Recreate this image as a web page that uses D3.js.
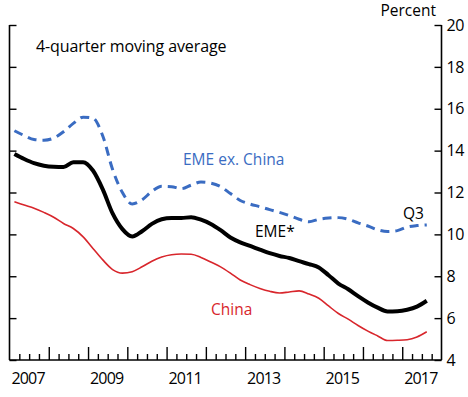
<!DOCTYPE html>
<html><head><meta charset="utf-8">
<script src="https://cdn.jsdelivr.net/npm/d3@7"></script>
<style>
html,body{margin:0;padding:0;background:#fff;}
svg{display:block;font-family:"Open Sans","Noto Sans",sans-serif;}
</style></head>
<body><svg id="c" width="468" height="397"></svg>
<script>
// Quarterly data, 2007Q1 .. 2017Q3
const quarters = d3.range(43).map(i => ({year: 2007 + Math.floor(i / 4), q: (i % 4) + 1}));
const emeAll = [13.84,13.6,13.4,13.28,13.23,13.22,13.45,13.45,13.05,12.15,11.0,10.25,9.9,10.15,10.5,10.72,10.78,10.78,10.82,10.7,10.5,10.2,9.85,9.62,9.45,9.27,9.1,8.97,8.87,8.72,8.58,8.42,8.05,7.65,7.38,7.05,6.75,6.5,6.32,6.33,6.4,6.55,6.83];
const emeExChina = [14.95,14.72,14.53,14.5,14.6,14.9,15.3,15.6,15.55,14.7,13.1,12.0,11.45,11.65,12.05,12.3,12.28,12.18,12.35,12.5,12.45,12.28,11.95,11.62,11.45,11.32,11.18,11.05,10.9,10.72,10.6,10.72,10.78,10.8,10.72,10.55,10.4,10.22,10.14,10.18,10.35,10.42,10.45];
const china = [11.56,11.4,11.25,11.05,10.82,10.52,10.28,9.88,9.33,8.78,8.32,8.15,8.22,8.45,8.72,8.92,9.03,9.06,9.05,8.9,8.68,8.45,8.15,7.82,7.6,7.42,7.28,7.2,7.25,7.3,7.15,6.95,6.58,6.22,5.95,5.65,5.38,5.15,4.93,4.94,4.97,5.1,5.35];
const yearLabels = ["2007","2009","2011","2013","2015","2017"];
const yTicks = [4,6,8,10,12,14,16,18,20];

const svg = d3.select("#c");
const L = 9.5, R = 441.5, T = 25, B = 360;
const x = d3.scaleLinear().domain([2007, 2018]).range([L, R]);
const y = d3.scaleLinear().domain([4, 20]).range([B, T]);
const xq = (d, i) => x(2007 + (i + 0.5) / 4);

// axes
const axisColor = "#000";
const gL = svg.append("g").attr("transform", `translate(${L},0)`)
  .call(d3.axisRight(y).tickValues(yTicks).tickSize(7).tickFormat(""));
const gR = svg.append("g").attr("transform", `translate(${R},0)`)
  .call(d3.axisLeft(y).tickValues(yTicks).tickSize(7).tickFormat(""));
const gRl = svg.append("g").attr("transform", `translate(${R + 5},0)`)
  .call(d3.axisRight(y).tickValues(yTicks).tickSize(0).tickPadding(0));
gRl.select(".domain").remove();
gRl.selectAll("text").attr("font-size", 16).attr("fill", "#000").attr("letter-spacing", -0.3).attr("font-family", "Open Sans");

const minor = d3.range(2007, 2018.001, 0.25).filter(v => Math.abs(v - Math.round(v)) > 0.01);
const major = d3.range(2008, 2018);
const gB1 = svg.append("g").attr("transform", `translate(0,${B})`)
  .call(d3.axisTop(x).tickValues(minor).tickSize(6).tickFormat("").tickSizeOuter(0));
const gB2 = svg.append("g").attr("transform", `translate(0,${B})`)
  .call(d3.axisTop(x).tickValues(major).tickSize(13).tickFormat("").tickSizeOuter(0));
[gL, gR, gB1, gB2].forEach(g => {
  g.selectAll("path.domain").attr("stroke", axisColor).attr("stroke-width", 1.6);
  g.selectAll(".tick line").attr("stroke", axisColor).attr("stroke-width", 1.4);
});
[gL, gR].forEach(g => g.select(".domain").attr("d", `M0,${T}V${B}`));
gB1.select(".domain").attr("d", `M${L},0H${R}`);
gB2.select(".domain").remove();

// year labels centred in each labelled year
svg.append("g").selectAll("text").data(yearLabels).join("text")
  .attr("x", d => x(+d + 0.5) - 1).attr("y", 384)
  .attr("text-anchor", "middle").attr("font-size", 16).attr("letter-spacing", -0.8)
  .text(d => d);

svg.append("text").attr("x", 436).attr("y", 16).attr("text-anchor", "end")
  .attr("font-size", 15.5).text("Percent");

// lines
const line = d3.line().x(xq).y(d => y(d)).curve(d3.curveMonotoneX);
svg.append("path").datum(china).attr("d", line).attr("fill", "none")
  .attr("stroke", "#d8262c").attr("stroke-width", 1.6);
svg.append("path").datum(emeExChina).attr("d", line).attr("fill", "none")
  .attr("stroke", "#3a6cc2").attr("stroke-width", 3).attr("stroke-dasharray", "9,6");
svg.append("path").datum(emeAll).attr("d", line).attr("fill", "none")
  .attr("stroke", "#000").attr("stroke-width", 4);

// annotations
svg.append("text").attr("x", 36).attr("y", 52).attr("font-size", 16).attr("letter-spacing", -0.1).text("4-quarter moving average");
svg.append("text").attr("x", 183).attr("y", 165).attr("font-size", 15.5).attr("fill", "#3a6cc2").text("EME ex. China");
svg.append("text").attr("x", 255).attr("y", 237).attr("font-size", 15.5).attr("fill", "#000").text("EME*");
svg.append("text").attr("x", 211).attr("y", 315).attr("font-size", 15.5).attr("fill", "#d8262c").text("China");
svg.append("text").attr("x", 403).attr("y", 219).attr("font-size", 15.5).attr("fill", "#000").text("Q3");
</script></body></html>
